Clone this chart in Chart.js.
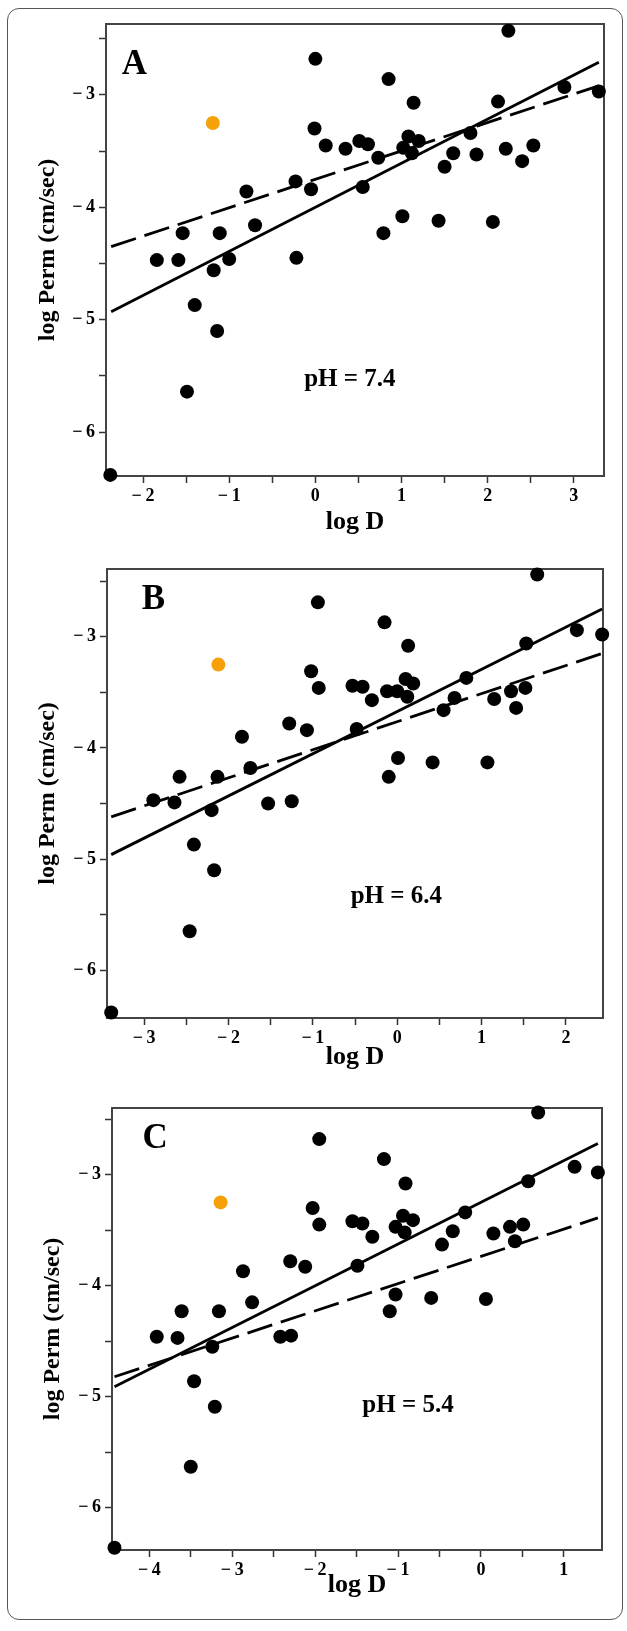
<!DOCTYPE html>
<html>
<head>
<meta charset="utf-8">
<script src="https://cdn.jsdelivr.net/npm/chart.js"></script>
<style>
  html, body { margin: 0; padding: 0; background: #fff; }
  #page { position: relative; width: 627px; height: 1631px; overflow: hidden; }
  canvas { position: absolute; left: 0; }
  #frame {
    position: absolute; left: 7px; top: 8px; width: 616px; height: 1612px;
    box-sizing: border-box; border: 1.5px solid #555; border-radius: 12px;
    pointer-events: none;
  }
</style>
</head>
<body>
<div id="page">
  <canvas id="chartA" width="627" height="540" style="top:0px"></canvas>
  <canvas id="chartB" width="627" height="540" style="top:540px"></canvas>
  <canvas id="chartC" width="627" height="551" style="top:1080px"></canvas>
  <div id="frame"></div>
</div>
<script>
// panel A, pH 7.4
const logD_A = [-2.38, -1.84, -1.59, -1.54, -1.49, -1.40, -1.18, -1.14, -1.11, -1.00, -0.80, -0.70, -0.23, -0.22, -0.05, 0.00, -0.01, 0.12, 0.35, 0.51, 0.61, 0.55, 0.73, 0.79, 0.85, 1.01, 1.02, 1.08, 1.12, 1.14, 1.20, 1.43, 1.50, 1.60, 1.80, 1.87, 2.06, 2.12, 2.21, 2.24, 2.40, 2.53, 2.89, 3.29];
const perm_A = [-6.38, -4.47, -4.47, -4.23, -5.64, -4.87, -4.56, -5.10, -4.23, -4.46, -3.86, -4.16, -3.77, -4.45, -3.84, -2.68, -3.30, -3.45, -3.48, -3.41, -3.44, -3.82, -3.56, -4.23, -2.86, -4.08, -3.47, -3.37, -3.52, -3.07, -3.41, -4.12, -3.64, -3.52, -3.34, -3.53, -4.13, -3.06, -3.48, -2.43, -3.59, -3.45, -2.93, -2.97];
const orange_A = [-1.19, -3.25];
const solid_A = [[-2.37, -4.93], [3.29, -2.71]];
const dashed_A = [[-2.37, -4.35], [3.29, -2.92]];

// panel B, pH 6.4
const logD_B = [-3.39, -2.89, -2.64, -2.58, -2.46, -2.41, -2.20, -2.17, -2.13, -1.84, -1.74, -1.53, -1.28, -1.25, -1.07, -1.02, -0.93, -0.94, -0.53, -0.41, -0.48, -0.30, -0.15, -0.10, -0.12, 0.00, 0.01, 0.10, 0.12, 0.13, 0.19, 0.42, 0.55, 0.68, 0.82, 1.07, 1.15, 1.35, 1.41, 1.52, 1.53, 1.66, 2.13, 2.43];
const perm_B = [-6.38, -4.47, -4.49, -4.26, -5.65, -4.87, -4.56, -5.10, -4.26, -3.90, -4.18, -4.50, -3.78, -4.48, -3.84, -3.31, -3.46, -2.69, -3.44, -3.45, -3.83, -3.57, -2.87, -4.26, -3.49, -3.49, -4.09, -3.38, -3.54, -3.08, -3.42, -4.13, -3.66, -3.55, -3.37, -4.13, -3.56, -3.49, -3.64, -3.46, -3.06, -2.44, -2.94, -2.98];
const orange_B = [-2.12, -3.25];
const solid_B = [[-3.39, -4.96], [2.43, -2.75]];
const dashed_B = [[-3.39, -4.62], [2.43, -3.15]];

// panel C, pH 5.4
const logD_C = [-4.42, -3.91, -3.66, -3.61, -3.50, -3.46, -3.24, -3.21, -3.16, -2.87, -2.76, -2.42, -2.30, -2.29, -2.12, -2.03, -1.95, -1.95, -1.55, -1.43, -1.49, -1.31, -1.17, -1.10, -1.03, -1.03, -0.94, -0.92, -0.91, -0.82, -0.60, -0.47, -0.34, -0.19, 0.06, 0.15, 0.35, 0.41, 0.51, 0.57, 0.69, 1.13, 1.41];
const perm_C = [-6.36, -4.46, -4.47, -4.23, -5.63, -4.86, -4.55, -5.09, -4.23, -3.87, -4.15, -4.46, -3.78, -4.45, -3.83, -3.30, -3.45, -2.68, -3.42, -3.44, -3.82, -3.56, -2.86, -4.23, -3.47, -4.08, -3.37, -3.52, -3.08, -3.41, -4.11, -3.63, -3.51, -3.34, -4.12, -3.53, -3.47, -3.60, -3.45, -3.06, -2.44, -2.93, -2.98];
const orange_C = [-3.14, -3.25];
const solid_C = [[-4.42, -4.91], [1.41, -2.72]];
const dashed_C = [[-4.42, -4.82], [1.41, -3.39]];

const SERIF = '"Liberation Serif", "Times New Roman", serif';
Chart.defaults.color = '#000';

function fmtTick(v) {
  const r = Math.round(v);
  if (Math.abs(v - r) > 1e-6) return '';
  return r < 0 ? '\u2212\u2009' + Math.abs(r) : String(r);
}

const panelText = {
  id: 'panelText',
  beforeDatasetsDraw(chart, args, opts) {
    const { ctx, chartArea: a } = chart;
    ctx.save();
    ctx.strokeStyle = '#444';
    ctx.lineWidth = 2;
    ctx.strokeRect(a.left, a.top, a.width, a.height);
    ctx.restore();
  },
  afterDatasetsDraw(chart, args, opts) {
    const { ctx, scales: { x, y } } = chart;
    ctx.save();
    ctx.fillStyle = '#000';
    ctx.textAlign = 'center';
    ctx.textBaseline = 'middle';
    ctx.font = 'bold 35px ' + SERIF;
    ctx.fillText(opts.letter, x.getPixelForValue(opts.letterAt[0]), y.getPixelForValue(opts.letterAt[1]));
    ctx.font = 'bold 25px ' + SERIF;
    ctx.fillText(opts.ph, x.getPixelForValue(opts.phAt[0]), y.getPixelForValue(opts.phAt[1]));
    ctx.restore();
  }
};

function drawPanel(id, p) {
  const pts = p.xs.map((v, i) => ({ x: v, y: p.ys[i] }));
  const seg = s => s.map(q => ({ x: q[0], y: q[1] }));
  new Chart(document.getElementById(id), {
    type: 'scatter',
    data: {
      datasets: [
        { data: seg(p.solid), showLine: true, borderColor: '#000', borderWidth: 2.8, pointRadius: 0, clip: false },
        { data: seg(p.dashed), showLine: true, borderColor: '#000', borderWidth: 2.8, borderDash: [26, 9], pointRadius: 0, clip: false },
        { data: pts, backgroundColor: '#000', borderColor: '#000', borderWidth: 0, pointRadius: 7, clip: false },
        { data: [{ x: p.orange[0], y: p.orange[1] }], backgroundColor: '#f7a10a', borderWidth: 0, pointRadius: 7, clip: false }
      ]
    },
    options: {
      responsive: false,
      animation: false,
      layout: { padding: { top: p.top, right: p.right, left: 0, bottom: 0 } },
      plugins: {
        legend: { display: false },
        tooltip: { enabled: false },
        panelText: { letter: p.letter, letterAt: p.letterAt, ph: p.ph, phAt: p.phAt }
      },
      scales: {
        x: {
          type: 'linear', min: p.xMin, max: p.xMax,
          afterFit: s => { s.height = p.xh; },
          border: { display: false },
          grid: { drawOnChartArea: false, drawTicks: true, tickLength: 7, tickColor: '#333', tickWidth: 1.5 },
          ticks: { stepSize: 0.5, includeBounds: false, autoSkip: false, maxRotation: 0, padding: 3,
                   font: { family: SERIF, size: 18, weight: 'bold' }, callback: fmtTick },
          title: { display: true, text: 'log D', font: { family: SERIF, size: 26, weight: 'bold' },
                   padding: { top: 0, bottom: p.xtp } }
        },
        y: {
          type: 'linear', min: p.yMin, max: p.yMax,
          afterFit: s => { s.width = p.yw; },
          border: { display: false },
          grid: { drawOnChartArea: false, drawTicks: true, tickLength: 7, tickColor: '#333', tickWidth: 1.5 },
          ticks: { stepSize: 0.5, includeBounds: false, autoSkip: false, padding: 4,
                   font: { family: SERIF, size: 18, weight: 'bold' }, callback: fmtTick },
          title: { display: true, text: 'log Perm (cm/sec)', font: { family: SERIF, size: 24, weight: 'bold' },
                   padding: { top: p.ytp, bottom: 0 } }
        }
      }
    },
    plugins: [panelText]
  });
}

drawPanel('chartA', {
  xs: logD_A, ys: perm_A, orange: orange_A, solid: solid_A, dashed: dashed_A,
  xMin: -2.43, xMax: 3.35, yMin: -6.39, yMax: -2.37,
  top: 24, right: 23, yw: 106, xh: 64, xtp: 2, ytp: 33,
  letter: 'A', letterAt: [-2.10, -2.73], ph: 'pH = 7.4', phAt: [0.40, -5.53]
});
drawPanel('chartB', {
  xs: logD_B, ys: perm_B, orange: orange_B, solid: solid_B, dashed: dashed_B,
  xMin: -3.44, xMax: 2.44, yMin: -6.43, yMax: -2.39,
  top: 29, right: 24, yw: 107, xh: 62, xtp: 7, ytp: 33,
  letter: 'B', letterAt: [-2.89, -2.67], ph: 'pH = 6.4', phAt: [-0.01, -5.34]
});
drawPanel('chartC', {
  xs: logD_C, ys: perm_C, orange: orange_C, solid: solid_C, dashed: dashed_C,
  xMin: -4.45, xMax: 1.46, yMin: -6.38, yMax: -2.40,
  top: 28, right: 25, yw: 112, xh: 81, xtp: 30, ytp: 38,
  letter: 'C', letterAt: [-3.93, -2.68], ph: 'pH = 5.4', phAt: [-0.88, -5.08]
});
</script>
</body>
</html>
